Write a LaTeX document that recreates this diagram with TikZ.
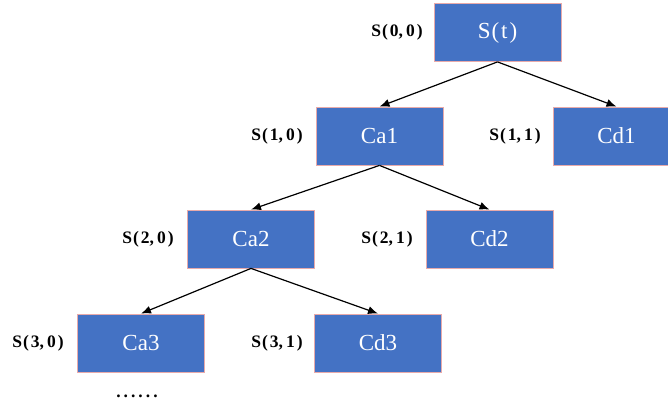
\documentclass[tikz,border=0pt]{standalone}
\usepackage{fontspec}
\setmainfont{Liberation Serif}
\usetikzlibrary{arrows.meta}
\definecolor{boxblue}{HTML}{4472C4}
\definecolor{boxedge}{HTML}{E8AAAA}
% wide-set parentheses for the state names
\newcommand{\widepar}[1]{\kern1pt(\kern2pt#1\kern2pt)}
\begin{document}
\begin{tikzpicture}[x=1pt,y=-1pt,
  state/.style={draw=boxedge,line width=0.8pt,fill=boxblue,text=white,
    minimum width=127pt,minimum height=58pt,inner sep=0pt,font=\fontsize{23}{25}\selectfont},
  tag/.style={font=\bfseries\fontsize{17.5}{19}\selectfont,inner sep=0pt},
  link/.style={line width=1.2pt,-{Latex[length=10pt,width=8pt]}}]
\useasboundingbox (0,0) rectangle (668,410);
% tree of states
\node[state] (st)  at (497.5,32.5) {S\widepar{t}};
\node[state] (ca1) at (379.5,136) {Ca1};
\node[state] (cd1) at (616.5,136) {Cd1};
\node[state] (ca2) at (251,239) {Ca2};
\node[state] (cd2) at (489.5,239) {Cd2};
\node[state] (ca3) at (141,343) {Ca3};
\node[state] (cd3) at (378,343) {Cd3};
% state indices
\node[tag] (l00) at (397,32) {S\widepar{0,\,0}};
\node[tag] (l10) at (277,136) {S\widepar{1,\,0}};
\node[tag] (l11) at (515,136) {S\widepar{1,\,1}};
\node[tag] (l20) at (148,239) {S\widepar{2,\,0}};
\node[tag] (l21) at (387,239) {S\widepar{2,\,1}};
\node[tag] (l30) at (38,343) {S\widepar{3,\,0}};
\node[tag] (l31) at (277,343) {S\widepar{3,\,1}};
\node[tag] (dots) at (137,396) {.\kern3pt.\kern3pt.\kern3pt.\kern3pt.\kern3pt.};
% branches
\draw[link] (st.south) -- (ca1.north);
\draw[link] (st.south) -- (cd1.north);
\draw[link] (ca1.south) -- (ca2.north);
\draw[link] (ca1.south) -- (cd2.north);
\draw[link] (ca2.south) -- (ca3.north);
\draw[link] (ca2.south) -- (cd3.north);
\end{tikzpicture}
\end{document}
